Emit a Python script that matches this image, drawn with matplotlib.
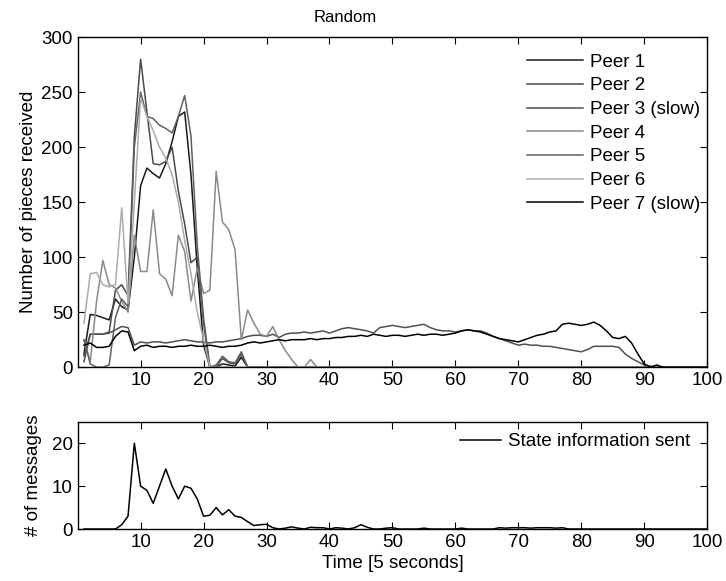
import numpy as np
import matplotlib
matplotlib.use('Agg')
import matplotlib.pyplot as plt

plt.rcParams['font.family'] = ['Liberation Sans', 'DejaVu Sans']

# time axis (units of 5 seconds)
t = np.arange(1, 101)

def pad(vals, n=100):
    return np.array(vals + [0] * (n - len(vals)), dtype=float)

# pieces received per peer
peer1 = pad([12, 48, 47, 45, 43, 62, 55, 52, 100, 165, 181, 176, 172, 185, 205, 228, 232, 175, 90, 20,
             0, 0, 3, 2, 1, 9, 0])
peer2 = pad([5, 30, 30, 30, 32, 70, 75, 65, 210, 280, 232, 185, 184, 187, 200, 160, 130, 95, 100, 40,
             0, 0, 8, 4, 3, 12, 0])
peer3 = pad([10, 30, 30, 30, 31, 34, 37, 36, 20, 23, 22, 23, 23, 22, 23, 24, 25, 24, 23, 23,
             22, 23, 23, 24, 25, 26, 28, 29, 29, 28, 30, 27, 30, 31, 31, 32, 31, 32, 33, 31,
             33, 35, 36, 35, 34, 33, 31, 36, 37, 38, 37, 36, 37, 38, 39, 36, 34, 33, 33, 32,
             33, 34, 33, 33, 31, 28, 26, 24, 22, 20, 21, 20, 20, 19, 19, 18, 17, 16, 15, 14,
             16, 19, 19, 19, 19, 18, 12, 8, 5, 2, 1, 0])
peer4 = pad([25, 5, 60, 97, 75, 72, 60, 50, 120, 87, 87, 143, 85, 80, 65, 120, 105, 60, 90, 67,
             70, 178, 132, 125, 107, 25, 52, 40, 30, 28, 37, 25, 15, 7, 0, 0, 7, 0])
peer5 = pad([25, 3, 0, 0, 2, 45, 62, 55, 200, 250, 228, 226, 220, 217, 213, 228, 247, 210, 110, 45,
             0, 2, 10, 5, 4, 14, 0])
peer6 = pad([40, 85, 86, 75, 73, 75, 145, 58, 150, 245, 228, 215, 200, 190, 175, 150, 115, 85, 50, 25,
             0, 0, 0, 0, 0, 0])
peer7 = pad([20, 22, 18, 18, 19, 28, 33, 32, 15, 19, 20, 18, 19, 19, 18, 19, 19, 20, 19, 19,
             20, 19, 18, 19, 19, 20, 22, 23, 22, 23, 24, 25, 24, 25, 25, 25, 26, 25, 26, 26,
             27, 27, 28, 28, 29, 28, 30, 29, 28, 29, 29, 28, 29, 30, 29, 30, 30, 29, 30, 31,
             33, 34, 33, 32, 30, 28, 26, 25, 24, 23, 25, 27, 29, 30, 32, 33, 39, 40, 39, 38,
             39, 41, 38, 33, 27, 26, 28, 22, 12, 3, 0, 2, 0])

peers = [peer1, peer2, peer3, peer4, peer5, peer6, peer7]
labels = ['Peer 1', 'Peer 2', 'Peer 3 (slow)', 'Peer 4', 'Peer 5', 'Peer 6', 'Peer 7 (slow)']
colors = ['#1a1a1a', '#4a4a4a', '#505050', '#8a8a8a', '#606060', '#ababab', '#000000']

# state messages sent
msgs = pad([0, 0, 0, 0, 0, 0, 1, 3, 20, 10, 9, 6, 10, 14, 10, 7, 10, 9.5, 7, 3,
            3.2, 5, 3.3, 4.5, 3, 2.7, 1.7, 0.8, 1, 1.1, 0.3, 0, 0.2, 0.5, 0.2, 0, 0.4, 0.3, 0.3, 0,
            0.3, 0.2, 0, 0.3, 1, 0.4, 0, 0, 0.2, 0.3, 0, 0, 0, 0, 0.2, 0, 0, 0, 0, 0,
            0.2, 0, 0, 0, 0, 0, 0.3, 0.2, 0.3, 0.3, 0.3, 0.2, 0.3, 0.3, 0.3, 0.2, 0.3, 0])

fs = 13.5

fig = plt.figure(figsize=(7.26, 5.81), dpi=100)
ax1 = fig.add_axes([0.107, 0.368, 0.867, 0.568])
ax2 = fig.add_axes([0.107, 0.0895, 0.867, 0.1845])

for y, lab, c in zip(peers, labels, colors):
    ax1.plot(t, y, color=c, lw=1.1, label=lab)
ax1.set_xlim(0, 100)
ax1.set_ylim(0, 300)
ax1.set_xticks(range(10, 101, 10))
ax1.set_yticks(range(0, 301, 50))
ax1.set_title('Random', fontsize=12, pad=11, x=0.425)
ax1.set_ylabel('Number of pieces received', fontsize=fs, labelpad=3)
ax1.legend(loc='upper right', bbox_to_anchor=(1.01, 0.99), frameon=False, fontsize=fs,
           handlelength=3.0, labelspacing=0.35, handletextpad=0.35, borderaxespad=0.3)

ax2.plot(t, msgs, color='black', lw=1.1, label='State information sent')
ax2.set_xlim(0, 100)
ax2.set_ylim(0, 25)
ax2.set_xticks(range(10, 101, 10))
ax2.set_yticks([0, 10, 20])
ax2.set_xlabel('Time [5 seconds]', fontsize=fs, labelpad=3)
ax2.set_ylabel('# of messages', fontsize=fs, labelpad=7)
ax2.legend(loc='upper right', bbox_to_anchor=(1.0, 1.05), frameon=False, fontsize=fs,
           handlelength=2.2, handletextpad=0.35)

for ax in (ax1, ax2):
    ax.tick_params(direction='in', top=True, right=True, labelsize=fs, length=5)
    for s in ax.spines.values():
        s.set_linewidth(1.0)

fig.savefig('out.png', dpi=100)
